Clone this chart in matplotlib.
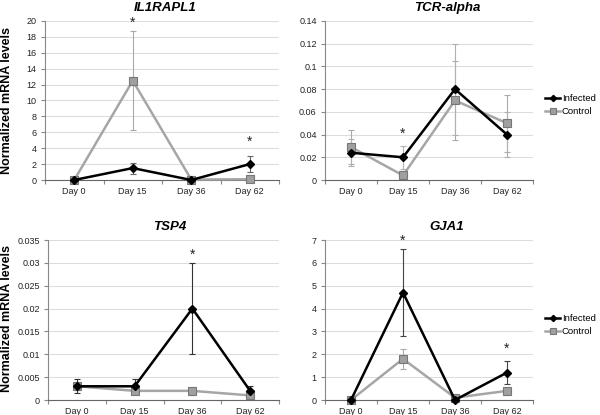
import matplotlib
matplotlib.use("Agg")
import matplotlib.pyplot as plt
import numpy as np

plt.rcParams['font.family'] = ['Liberation Sans', 'DejaVu Sans']

days = ["Day 0", "Day 15", "Day 36", "Day 62"]

titles = ["IL1RAPL1", "TCR-alpha", "TSP4", "GJA1"]

il_inf = [0.0, 1.5, 0.0, 2.0]
il_inf_err = [0.0, 0.7, 0.0, 1.0]
il_ctl = [0.0, 12.5, 0.05, 0.1]
il_ctl_err = [0.0, 6.25, 0.0, 0.0]
il_star_x = [1, 3]
il_star_y = [19.8, 4.8]
il_yticks = [0, 2, 4, 6, 8, 10, 12, 14, 16, 18, 20]
il_yticklabels = ["0", "2", "4", "6", "8", "10", "12", "14", "16", "18", "20"]

tcr_inf = [0.024, 0.020, 0.080, 0.040]
tcr_inf_err = [0.012, 0.010, 0.040, 0.020]
tcr_ctl = [0.029, 0.004, 0.070, 0.050]
tcr_ctl_err = [0.015, 0.004, 0.035, 0.025]
tcr_star_x = [1]
tcr_star_y = [0.041]
tcr_yticks = [0, 0.02, 0.04, 0.06, 0.08, 0.1, 0.12, 0.14]
tcr_yticklabels = ["0", "0.02", "0.04", "0.06", "0.08", "0.1", "0.12", "0.14"]

tsp_inf = [0.003, 0.003, 0.020, 0.002]
tsp_inf_err = [0.0015, 0.0015, 0.010, 0.001]
tsp_ctl = [0.003, 0.002, 0.002, 0.001]
tsp_ctl_err = [0.0008, 0.0006, 0.0008, 0.0006]
tsp_star_x = [2]
tsp_star_y = [0.0318]
tsp_yticks = [0, 0.005, 0.01, 0.015, 0.02, 0.025, 0.03, 0.035]
tsp_yticklabels = ["0", "0.005", "0.01", "0.015", "0.02", "0.025", "0.03", "0.035"]

gja_inf = [0.0, 4.7, 0.0, 1.2]
gja_inf_err = [0.0, 1.9, 0.0, 0.5]
gja_ctl = [0.0, 1.8, 0.1, 0.4]
gja_ctl_err = [0.0, 0.45, 0.0, 0.0]
gja_star_x = [1, 3]
gja_star_y = [6.97, 2.23]
gja_yticks = [0, 1, 2, 3, 4, 5, 6, 7]
gja_yticklabels = ["0", "1", "2", "3", "4", "5", "6", "7"]

panels = [
    (il_inf, il_inf_err, il_ctl, il_ctl_err, il_star_x, il_star_y, il_yticks, il_yticklabels),
    (tcr_inf, tcr_inf_err, tcr_ctl, tcr_ctl_err, tcr_star_x, tcr_star_y, tcr_yticks, tcr_yticklabels),
    (tsp_inf, tsp_inf_err, tsp_ctl, tsp_ctl_err, tsp_star_x, tsp_star_y, tsp_yticks, tsp_yticklabels),
    (gja_inf, gja_inf_err, gja_ctl, gja_ctl_err, gja_star_x, gja_star_y, gja_yticks, gja_yticklabels),
]

W, H = 600, 415
fig = plt.figure(figsize=(6, 4.15), dpi=100)

# axes boxes in pixels: (left, top, right, bottom)
boxes = [(45, 21, 279, 180), (325, 21, 533, 180), (48, 240, 279, 400), (325, 240, 533, 400)]
title_pos = [(165, 8), (447, 8), (170, 227), (447, 227)]
inf_err_colors = ["#666666", "#b0b0b0", "#333333", "#444444"]

x = np.arange(len(days))
axes = []
for i, (box, p) in enumerate(zip(boxes, panels)):
    l, t, r, b = box
    ax = fig.add_axes([l / W, 1 - b / H, (r - l) / W, (b - t) / H])
    axes.append(ax)
    inf, inf_err, ctl, ctl_err, sx, sy, yt, ytl = p
    ymax = yt[-1]
    ax.set_ylim(0, ymax)
    ax.set_xlim(-0.5, len(days) - 0.5)
    ax.set_yticks(yt)
    ax.set_yticklabels(ytl, fontsize=6.5, color="#222222")
    ax.set_xticks(x)
    ax.set_xticklabels(days, fontsize=6.5, color="#222222")
    ax.set_xticks(np.arange(-0.5, len(days), 1.0), minor=True)
    ax.tick_params(axis='x', which='major', length=0, pad=5)
    ax.tick_params(axis='x', which='minor', length=3, color="#888888", width=0.8)
    ax.tick_params(axis='y', which='major', length=3, color="#888888", width=0.8, pad=3)
    ax.grid(axis='y', color="#dddddd", linewidth=0.8)
    ax.set_axisbelow(True)
    for s in ['top', 'right']:
        ax.spines[s].set_visible(False)
    ax.spines['left'].set_color("#888888")
    ax.spines['bottom'].set_color("#666666")
    ax.spines['left'].set_linewidth(0.8)
    ax.spines['bottom'].set_linewidth(0.8)

    ax.errorbar(x, ctl, yerr=ctl_err, fmt='none', ecolor="#aaaaaa", elinewidth=0.8,
                capsize=2, capthick=0.8, zorder=2)
    ax.errorbar(x, inf, yerr=inf_err, fmt='none', ecolor=inf_err_colors[i], elinewidth=0.8,
                capsize=2, capthick=0.8, zorder=2)
    ax.plot(x, ctl, color="#a6a6a6", linewidth=1.8, marker='s', markersize=6.2,
            markerfacecolor="#a0a0a0", markeredgecolor="#777777", markeredgewidth=0.8,
            label="Control", zorder=3, clip_on=False)
    ax.plot(x, inf, color="black", linewidth=1.8, marker='D', markersize=4.5,
            markerfacecolor="black", markeredgecolor="black",
            label="Infected", zorder=4, clip_on=False)
    for xs, ys in zip(sx, sy):
        ax.text(xs, ys, "*", ha='center', va='center', fontsize=10, color="#222222")

    fig.text(title_pos[i][0] / W, 1 - title_pos[i][1] / H, titles[i], ha='center', va='center',
             fontsize=9.5, fontweight='bold', fontstyle='italic')

# y labels
fig.text(7 / W, 1 - 100 / H, "Normalized mRNA levels", rotation=90, ha='center', va='center',
         fontsize=9, fontweight='bold')
fig.text(7 / W, 1 - 318 / H, "Normalized mRNA levels", rotation=90, ha='center', va='center',
         fontsize=9, fontweight='bold')

# legends on right panels
for ax, ly in [(axes[1], 105), (axes[3], 325)]:
    h, lab = ax.get_legend_handles_labels()
    order = [1, 0]
    fig.legend([h[k] for k in order], [lab[k] for k in order],
               loc='center left', bbox_to_anchor=(545 / W, 1 - ly / H),
               frameon=False, fontsize=6.8, handlelength=1.6, handletextpad=0.2,
               labelspacing=0.45, borderpad=0, borderaxespad=0, markerscale=0.7)

fig.savefig("out.png", dpi=100)
